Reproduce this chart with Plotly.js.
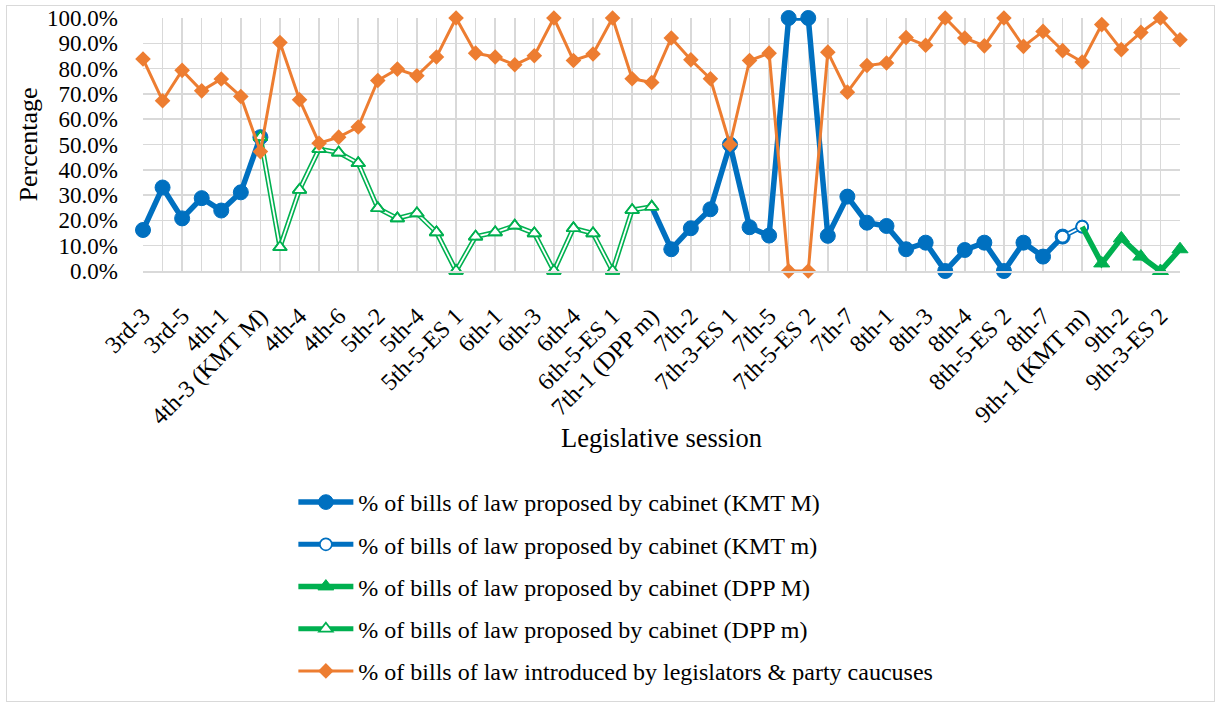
<!DOCTYPE html>
<html><head><meta charset="utf-8">
<script src="https://cdn.plot.ly/plotly-3.0.1.min.js"></script>
<style>
html,body{margin:0;padding:0;background:#fff;}
#chart{position:absolute;left:0;top:0;width:1216px;height:705px;}
#frame{position:absolute;left:6px;top:5px;width:1209px;height:697px;border:1px solid #D9D9D9;box-sizing:border-box;pointer-events:none;}
</style></head><body>
<div id="chart"></div><div id="frame"></div>
<script>
const categories = ["3rd-3","3rd-4","3rd-5","3rd-6","4th-1","4th-2","4th-3 (KMT M)","4th-3 (DPP m)","4th-4","4th-5",
  "4th-6","5th-1","5th-2","5th-3","5th-4","5th-5","5th-5-ES 1","5th-6","6th-1","6th-2",
  "6th-3","6th-3-ES 1","6th-4","6th-5","6th-5-ES 1","6th-6","7th-1 (DPP m)","7th-1 (KMT M)","7th-2","7th-3",
  "7th-3-ES 1","7th-4","7th-5","7th-5-ES 1","7th-5-ES 2","7th-6","7th-7","7th-8","8th-1","8th-2",
  "8th-3","8th-3-ES 1","8th-4","8th-5","8th-5-ES 2","8th-6","8th-7","8th-8","9th-1 (KMT m)","9th-1 (DPP M)",
  "9th-2","9th-3","9th-3-ES 2","9th-4"];

const cabinetKMTMajority = [16.2,33.0,20.8,28.8,23.9,31.1,52.9,null,null,null,
  null,null,null,null,null,null,null,null,null,null,
  null,null,null,null,null,null,25.4,8.6,16.9,24.4,
  50.0,17.3,14.0,100,100,13.9,29.4,19.1,17.8,8.6,
  11.2,0,8.3,11.2,0,11.2,5.7,13.6,null,null,
  null,null,null,null];
const cabinetKMTMinority = [null,null,null,null,null,null,null,null,null,null,
  null,null,null,null,null,null,null,null,null,null,
  null,null,null,null,null,null,null,null,null,null,
  null,null,null,null,null,null,null,null,null,null,
  null,null,null,null,null,null,null,13.6,17.5,null,
  null,null,null,null];
const cabinetDPPMajority = [null,null,null,null,null,null,null,null,null,null,
  null,null,null,null,null,null,null,null,null,null,
  null,null,null,null,null,null,null,null,null,null,
  null,null,null,null,null,null,null,null,null,null,
  null,null,null,null,null,null,null,null,17.5,3.0,
  12.9,5.7,0,8.6];
const cabinetDPPMinority = [null,null,null,null,null,null,52.9,9.4,32.1,48.2,
  46.8,42.6,24.8,20.8,22.8,15.3,0,13.6,15.3,17.9,
  14.9,0,16.9,14.9,0,24.1,25.4,null,null,null,
  null,null,null,null,null,null,null,null,null,null,
  null,null,null,null,null,null,null,null,null,null,
  null,null,null,null];
const legislators = [83.8,67.3,79.3,71.2,75.9,69.0,47.2,90.3,67.7,50.5,
  52.9,56.9,75.3,79.8,77.2,84.6,100,86.1,84.6,81.5,
  85.1,100,83.2,85.8,100,76.0,74.5,92.1,83.5,76.0,
  50.0,83.2,86.1,0,0,86.5,70.7,81.2,82.2,92.3,
  89.2,100,92.1,89.0,100,88.8,94.7,87.1,82.6,97.4,
  87.5,94.3,100,91.4];

const seriesNames = [
  "% of bills of law proposed by cabinet (KMT M)",
  "% of bills of law proposed by cabinet (KMT m)",
  "% of bills of law proposed by cabinet (DPP M)",
  "% of bills of law proposed by cabinet (DPP m)",
  "% of bills of law introduced by legislators & party caucuses"];

const BLUE = '#0070C0', GREEN = '#00B050', ORANGE = '#ED7D31';
const FONT = 'Liberation Serif, "Times New Roman", Times, serif';

// markers hidden where a series merely continues from another one
const hideAt = (arr, names, size) => arr.map((v, i) => names.includes(categories[i]) ? 0 : size);

function doubleLine(y, color, name, group, symbol, size) {
  return [
    {x: categories, y: y, type: 'scatter', mode: 'lines+markers', name: name, legendgroup: group,
     line: {color: color, width: 5}, cliponaxis: false, hoverinfo: 'skip',
     marker: {symbol: symbol, size: size, color: '#FFFFFF', opacity: 1, line: {color: color, width: 1.7}}},
    {x: categories, y: y, type: 'scatter', mode: 'lines', showlegend: false, legendgroup: group,
     line: {color: '#FFFFFF', width: 1.8}, cliponaxis: false, hoverinfo: 'skip'},
    {x: categories, y: y, type: 'scatter', mode: 'markers', showlegend: false, legendgroup: group,
     cliponaxis: false, hoverinfo: 'skip',
     marker: {symbol: symbol + '-open', size: size, color: color, opacity: 1, line: {color: color, width: 1.7}}}
  ];
}

const traces = [
  {x: categories, y: cabinetKMTMajority, type: 'scatter', mode: 'lines+markers', name: seriesNames[0], legendgroup: 'a',
   line: {color: BLUE, width: 5.5}, cliponaxis: false, hoverinfo: 'skip',
   marker: {symbol: 'circle', size: hideAt(cabinetKMTMajority, ['7th-1 (DPP m)'], 15), color: BLUE, opacity: 1,
            line: {color: BLUE, width: 1}}},
  ...doubleLine(cabinetKMTMinority, BLUE, seriesNames[1], 'b', 'circle', 12),
  {x: categories, y: cabinetDPPMajority, type: 'scatter', mode: 'lines+markers', name: seriesNames[2], legendgroup: 'c',
   line: {color: GREEN, width: 5.5}, cliponaxis: false, hoverinfo: 'skip',
   marker: {symbol: 'triangle-up', size: hideAt(cabinetDPPMajority, ['9th-1 (KMT m)'], 14), color: GREEN, opacity: 1,
            line: {color: GREEN, width: 1}}},
  ...doubleLine(cabinetDPPMinority, GREEN, seriesNames[3], 'd', 'triangle-up', 12),
  {x: categories, y: legislators, type: 'scatter', mode: 'lines+markers', name: seriesNames[4], legendgroup: 'e',
   line: {color: ORANGE, width: 3}, cliponaxis: false, hoverinfo: 'skip',
   marker: {symbol: 'diamond', size: 12, color: ORANGE, opacity: 1}}
];

const layout = {
  width: 1216, height: 705,
  margin: {l: 143, r: 36, t: 18, b: 434},
  paper_bgcolor: '#FFFFFF', plot_bgcolor: '#FFFFFF',
  font: {family: FONT, color: '#000000', size: 22},
  showlegend: true,
  legend: {x: 0.145, xanchor: 'left', y: -0.826, yanchor: 'top', orientation: 'v',
           font: {family: FONT, size: 24, color: '#000000'}, bgcolor: 'rgba(0,0,0,0)',
           tracegroupgap: 8, itemwidth: 55, traceorder: 'grouped'},
  xaxis: {type: 'category', range: [0, categories.length - 1], fixedrange: true,
          tickmode: 'array', tickvals: categories,
          ticktext: categories.map((c, i) => i % 2 === 0 ? c : ''),
          tickangle: -45, ticks: '', ticklabelstandoff: 20,
          showgrid: true, gridcolor: '#D9D9D9', gridwidth: 1.5,
          showline: true, linecolor: '#D9D9D9', linewidth: 1.5, zeroline: false,
          tickfont: {family: FONT, size: 24, color: '#000000'},
          title: {text: 'Legislative session', font: {family: FONT, size: 26.5, color: '#000000'}, standoff: 0}},
  yaxis: {range: [0, 100], dtick: 10, tick0: 0, fixedrange: true,
          tickformat: '.1f', ticksuffix: '%', ticks: '', ticklabelstandoff: 24,
          showgrid: true, gridcolor: '#D9D9D9', gridwidth: 1.5, zeroline: false, showline: false,
          tickfont: {family: FONT, size: 23, color: '#000000'},
          title: {text: 'Percentage', font: {family: FONT, size: 26, color: '#000000'}, standoff: 1}}
};

Plotly.newPlot('chart', traces, layout, {displayModeBar: false, staticPlot: true});
</script></body></html>
